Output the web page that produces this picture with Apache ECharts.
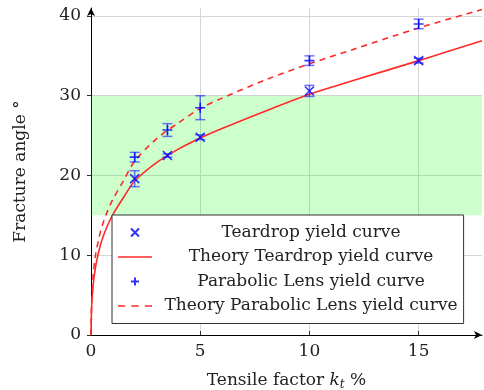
<!DOCTYPE html>
<html>
<head>
<meta charset="utf-8">
<script src="https://cdn.jsdelivr.net/npm/echarts@6/dist/echarts.min.js"></script>
<style>
html, body { margin: 0; padding: 0; background: #fff; }
#chart { width: 484px; height: 390px; }
</style>
</head>
<body>
<div id="chart"></div>
<script>
// measured points (tensile factor %, fracture angle deg, error)
var kt = [2, 3.5, 5, 10, 15];
var tearY = [19.6, 22.5, 24.8, 30.6, 34.4];
var tearErr = [1.0, 0.2, 0.3, 0.7, 0.3];
var paraY = [22.3, 25.7, 28.5, 34.4, 39.0];
var paraErr = [0.6, 0.8, 1.5, 0.6, 0.6];

// theory curves
var theoryX = [0, 0.03, 0.1, 0.2, 0.35, 0.5, 0.75, 1, 1.5, 2, 3, 4, 5, 6, 8, 10, 12, 15, 17.9];
var tearTheory = [0, 3.5, 6.3, 8.4, 10.4, 11.9, 13.7, 15.1, 17.3, 19.3, 21.6, 23.3, 24.7, 25.9, 28.1, 30.2, 31.9, 34.4, 36.9];
var paraTheory = [0, 4.0, 7.5, 9.9, 12.0, 13.6, 15.5, 17.0, 19.4, 21.8, 24.6, 26.6, 28.4, 29.7, 32.0, 34.0, 35.8, 38.5, 40.8];

var xTicks = [0, 5, 10, 15];
var yTicks = [0, 10, 20, 30, 40];
var band = [15, 30];

var FONT = 'DejaVu Serif';
var crossPath = 'path://M0,0L10,10M10,0L0,10';
var plusPath = 'path://M5,0L5,10M0,5L10,5';
// legend icons for the two theory lines (filled strips)
var solidIcon = 'path://M0,0L34,0L34,1.6L0,1.6Z';
var dashIcon = 'path://M0,0h7v1.6h-7zM13,0h7v1.6h-7zM26,0h7v1.6h-7z';

function pairs(xs, ys){
    var res = [];
    for(var i = 0; i < xs.length; i++){
        res.push([xs[i], ys[i]]);
    }
    return res;
}
function triples(xs, ys, es){
    var res = [];
    for(var i = 0; i < xs.length; i++){
        res.push([xs[i], ys[i], es[i]]);
    }
    return res;
}

function errorBar(params, api){
    var x = api.value(0), y = api.value(1), e = api.value(2);
    var hi = api.coord([x, y + e]);
    var lo = api.coord([x, y - e]);
    var w = 5;
    var st = { stroke: 'rgba(40,40,255,0.65)', lineWidth: 1.5 };
    return {
        type: 'group',
        children: [
            { type: 'line', shape: { x1: hi[0], y1: hi[1], x2: lo[0], y2: lo[1] }, style: st },
            { type: 'line', shape: { x1: hi[0] - w, y1: hi[1], x2: hi[0] + w, y2: hi[1] }, style: st },
            { type: 'line', shape: { x1: lo[0] - w, y1: lo[1], x2: lo[0] + w, y2: lo[1] }, style: st }
        ]
    };
}

var gridLines = [];
for(var i = 1; i < xTicks.length; i++) gridLines.push({ xAxis: xTicks[i] });
for(var j = 1; j < yTicks.length; j++) gridLines.push({ yAxis: yTicks[j] });

var chart = echarts.init(document.getElementById('chart'));
var option = {
    animation: false,
    backgroundColor: '#fff',
    textStyle: { fontFamily: FONT },
    grid: { left: 91, top: 8, width: 391, height: 327, outerBoundsMode: 'none', containLabel: false },
    xAxis: {
        type: 'value', min: 0, max: 17.9,
        name: 'Tensile factor {i|k}{s|t} %',
        nameLocation: 'middle', nameGap: 36,
        nameTextStyle: {
            fontFamily: FONT, fontSize: 17, color: '#222',
            rich: {
                i: { fontFamily: FONT, fontStyle: 'italic', fontSize: 17, color: '#222' },
                s: { fontFamily: FONT, fontStyle: 'italic', fontSize: 12, color: '#222', padding: [8, 0, 0, 0] }
            }
        },
        axisLine: { lineStyle: { color: '#000', width: 1 }, symbol: ['none', 'arrow'], symbolSize: [6, 8] },
        axisTick: { customValues: xTicks, inside: true, length: 4, lineStyle: { color: '#333' } },
        axisLabel: { customValues: xTicks, fontFamily: FONT, fontSize: 17, color: '#222', margin: 8 },
        splitLine: { show: false }
    },
    yAxis: {
        type: 'value', min: 0, max: 41,
        name: 'Fracture angle °',
        nameLocation: 'middle', nameGap: 62, nameRotate: 90,
        nameTextStyle: { fontFamily: FONT, fontSize: 17, color: '#222' },
        axisLine: { show: true, lineStyle: { color: '#000', width: 1 }, symbol: ['none', 'arrow'], symbolSize: [6, 8] },
        axisTick: { show: true, customValues: yTicks, inside: false, length: 4, lineStyle: { color: '#333' } },
        axisLabel: { customValues: yTicks, fontFamily: FONT, fontSize: 17, color: '#222', margin: 10 },
        splitLine: { show: false }
    },
    legend: {
        orient: 'vertical',
        left: 112, top: 215,
        backgroundColor: '#fff',
        borderColor: '#333', borderWidth: 1, borderRadius: 0,
        padding: [9, 6, 9, 6],
        itemWidth: 34, itemHeight: 8, itemGap: 7.5,
        formatter: function(name){ return '{c|' + name + '}'; },
        textStyle: {
            fontFamily: FONT, fontSize: 17, color: '#222',
            rich: { c: { width: 308, align: 'center', fontFamily: FONT, fontSize: 17, color: '#222' } }
        },
        data: [
            { name: 'Teardrop yield curve', icon: crossPath },
            { name: 'Theory Teardrop yield curve', icon: solidIcon },
            { name: 'Parabolic Lens yield curve', icon: plusPath },
            { name: 'Theory Parabolic Lens yield curve', icon: dashIcon }
        ]
    },
    series: [
        {
            name: 'Theory Teardrop yield curve',
            type: 'line',
            data: pairs(theoryX, tearTheory),
            showSymbol: false, symbol: 'none',
            smooth: 0.3,
            lineStyle: { color: '#ff2a2a', width: 1.6 },
            itemStyle: { color: '#ff2a2a' },
            z: 3,
            markLine: {
                silent: true, symbol: 'none', z: 0,
                label: { show: false },
                lineStyle: { color: '#d6d6d6', type: 'solid', width: 1 },
                data: gridLines
            },
            markArea: {
                silent: true, z: 1,
                itemStyle: { color: 'rgba(0,255,0,0.2)' },
                data: [[{ yAxis: band[0] }, { yAxis: band[1] }]]
            }
        },
        {
            name: 'Theory Parabolic Lens yield curve',
            type: 'line',
            data: pairs(theoryX, paraTheory),
            showSymbol: false, symbol: 'none',
            smooth: 0.3,
            lineStyle: { color: '#ff2a2a', width: 1.6, type: [6, 5] },
            itemStyle: { color: '#ff2a2a' },
            z: 3
        },
        {
            name: 'tearErr', type: 'custom',
            data: triples(kt, tearY, tearErr),
            renderItem: errorBar, z: 4, silent: true
        },
        {
            name: 'paraErr', type: 'custom',
            data: triples(kt, paraY, paraErr),
            renderItem: errorBar, z: 4, silent: true
        },
        {
            name: 'Teardrop yield curve',
            type: 'scatter',
            data: pairs(kt, tearY),
            symbol: crossPath, symbolSize: 9,
            itemStyle: { color: '#0000ff', borderColor: '#0000ff', borderWidth: 1.6 },
            z: 5
        },
        {
            name: 'Parabolic Lens yield curve',
            type: 'scatter',
            data: pairs(kt, paraY),
            symbol: plusPath, symbolSize: 10,
            itemStyle: { color: '#0000ff', borderColor: '#0000ff', borderWidth: 1.6 },
            z: 5
        }
    ]
};
chart.setOption(option);
</script>
</body>
</html>
